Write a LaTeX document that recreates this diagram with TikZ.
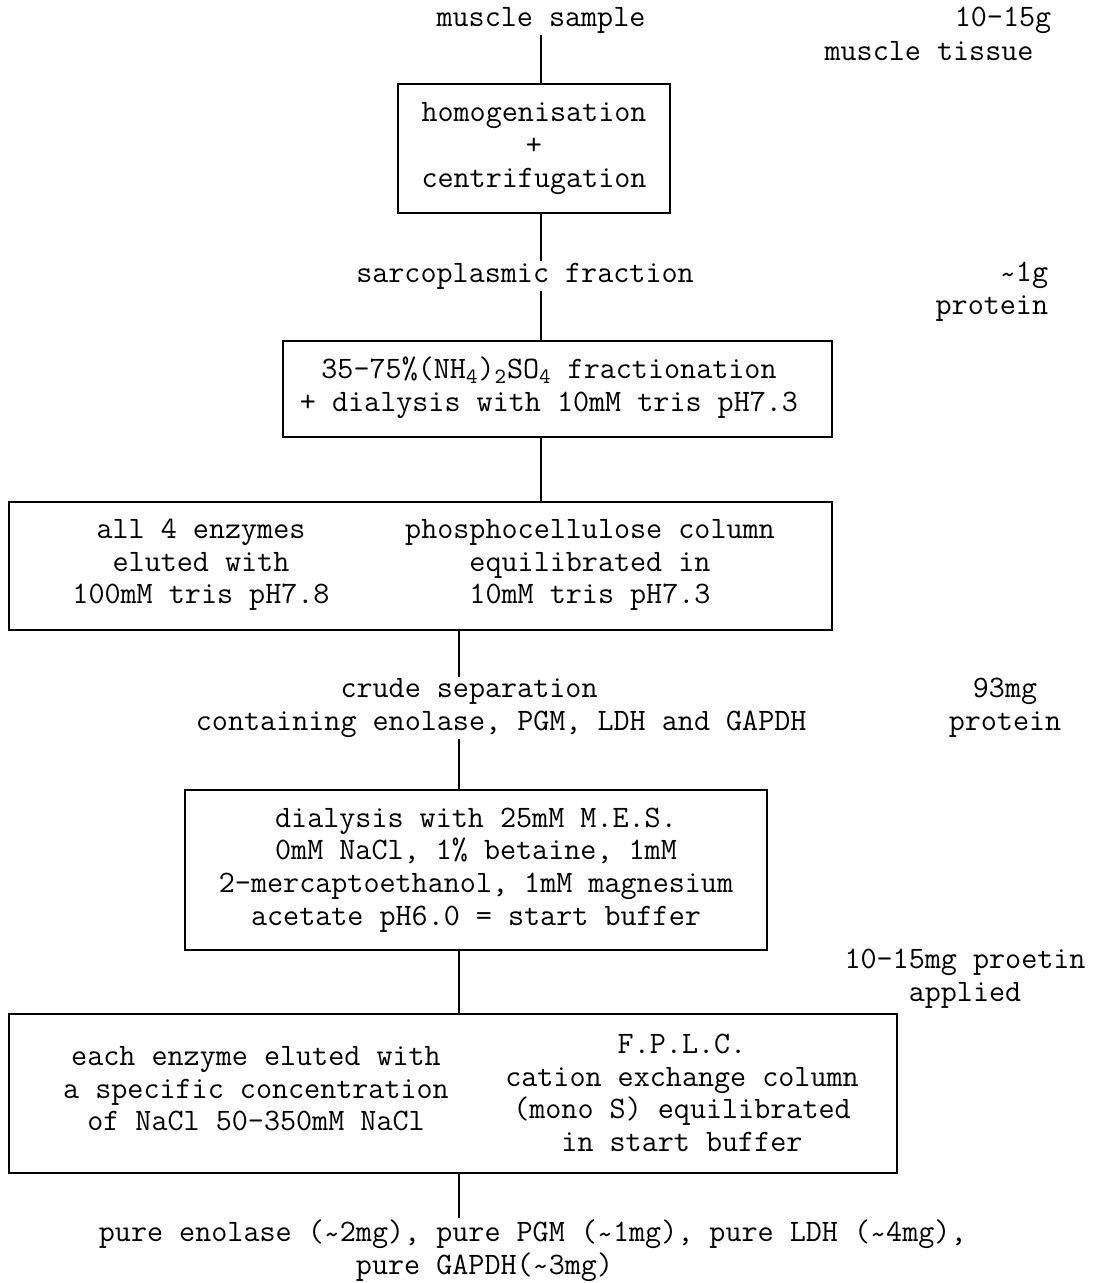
\documentclass[tikz,border=0pt]{standalone}
\usepackage{fontspec}
\newcommand{\approxmark}{\raisebox{-.2ex}[\height][0pt]{\textasciitilde}}

\begin{document}
\begin{tikzpicture}[x=0.5pt, y=-0.5pt, line width=0.9pt,
    every node/.style={font=\fontsize{15.6}{16.3}\selectfont\ttfamily, inner sep=0.5pt, align=center},
    stage/.style={draw, line width=0.9pt, inner sep=0pt}]
  \useasboundingbox (0,0) rectangle (1093,1283);
  \coordinate (upper) at (541,0);
  \coordinate (lower) at (459,0);

  % starting material
  \node (sample) at (541,20) {muscle sample};
  \node (tissueamt) at (1003,20) {10-15g};
  \node (tissuelbl) at (929,51) {muscle tissue};

  \node[stage, minimum width=136pt, minimum height=64.5pt] (homog) at (534,148.5)
    {homogenisation\\+\\centrifugation};

  \node (sarco) at (525,276) {sarcoplasmic fraction};
  \node[anchor=east, align=right] (sarcoamt) at (1050,292) {\approxmark1g\\protein};

  % ammonium sulphate step
  \node[stage, minimum width=274.5pt, minimum height=48pt] (frac) at (557.5,389) {};
  \node (fractxt) at (549,388)
    {35-75\%(NH\textsubscript{4})\textsubscript{2}SO\textsubscript{4} fractionation\\+ dialysis with 10mM tris pH7.3};

  % phosphocellulose column
  \node[stage, minimum width=411.5pt, minimum height=64pt] (column) at (420.5,566) {};
  \node (elutea) at (201,565) {all 4 enzymes\\eluted with\\100mM tris pH7.8};
  \node (phospho) at (590,565) {phosphocellulose column\\equilibrated in\\10mM tris pH7.3};

  \node[anchor=west, align=left] (crude) at (194,708)
    {\hphantom{xxxxxxxxx}crude separation\\containing enolase, PGM, LDH and GAPDH};
  \node (crudeamt) at (1005,708) {93mg\\protein};

  \node[stage, minimum width=291pt, minimum height=80pt] (dialysis) at (476,870)
    {dialysis with 25mM M.E.S.\\0mM NaCl, 1\% betaine, 1mM\\2-mercaptoethanol, 1mM magnesium\\acetate pH6.0 = start buffer};
  \node (applied) at (965,979) {10-15mg proetin\\applied};

  % F.P.L.C.
  \node[stage, minimum width=444pt, minimum height=79.5pt] (fplc) at (453,1093.5) {};
  \node (eluteb) at (256,1089) {each enzyme eluted with\\a specific concentration\\of NaCl 50-350mM NaCl};
  \node (fplctxt) at (682,1093) {F.P.L.C.\\cation exchange column\\(mono S) equilibrated\\in start buffer};

  \node[anchor=west, align=left] (yield) at (97,1250.5)
    {pure enolase (\approxmark2mg), pure PGM (\approxmark1mg), pure LDH (\approxmark4mg),\\\hphantom{xxxxxxxxxxxxxxxx}pure GAPDH(\approxmark3mg)};

  \draw (sample.south) -- (homog.north -| upper);
  \draw (homog.south -| upper) -- (sarco.north -| upper);
  \draw (sarco.south -| upper) -- (frac.north -| upper);
  \draw (frac.south -| upper) -- (column.north -| upper);
  \draw (column.south -| lower) -- (crude.north -| lower);
  \draw (crude.south -| lower) -- (dialysis.north -| lower);
  \draw (dialysis.south -| lower) -- (fplc.north -| lower);
  \draw (fplc.south -| lower) -- (yield.north -| lower);
\end{tikzpicture}
\end{document}
